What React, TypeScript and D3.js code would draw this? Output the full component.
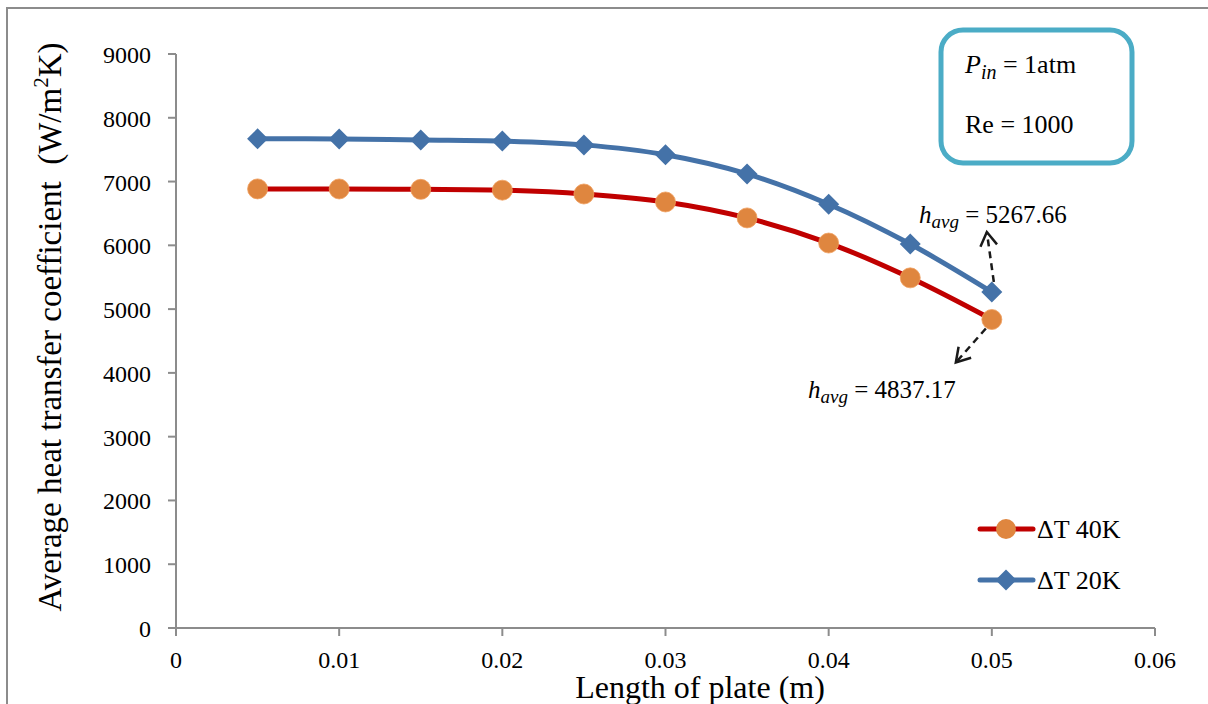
import React from "react";
import * as d3 from "d3";

const lengths = [0.005, 0.01, 0.015, 0.02, 0.025, 0.03, 0.035, 0.04, 0.045, 0.05];
const h20K = [7670, 7668, 7652, 7636, 7575, 7420, 7120, 6645, 6020, 5267.66];
const h40K = [6885, 6884, 6878, 6865, 6805, 6680, 6430, 6036, 5490, 4837.17];
const xTicks = [0, 0.01, 0.02, 0.03, 0.04, 0.05, 0.06];
const yTicks = [0, 1000, 2000, 3000, 4000, 5000, 6000, 7000, 8000, 9000];
const seriesNames = ["ΔT 40K", "ΔT 20K"];

const W = 1208;
const H = 704;
const FONT = "Liberation Serif, Times New Roman, serif";
const AXIS = "#8c8c8c";
const RED = "#c00000";
const ORANGE = "#df863f";
const BLUE = "#4472a8";

const x = d3.scaleLinear().domain([0, 0.06]).range([176, 1155]);
const y = d3.scaleLinear().domain([0, 9000]).range([628, 54]);

const line = d3
  .line<[number, number]>()
  .x((d) => x(d[0]))
  .y((d) => y(d[1]))
  .curve(d3.curveCatmullRom.alpha(0.5));

function diamond(cx: number, cy: number, r: number) {
  return `M${cx},${cy - r}L${cx + r},${cy}L${cx},${cy + r}L${cx - r},${cy}Z`;
}

function Arrow({ x1, y1, x2, y2 }: { x1: number; y1: number; x2: number; y2: number }) {
  const ang = Math.atan2(y2 - y1, x2 - x1);
  const len = 16;
  const spread = 0.55;
  const w1x = x2 - len * Math.cos(ang - spread);
  const w1y = y2 - len * Math.sin(ang - spread);
  const w2x = x2 - len * Math.cos(ang + spread);
  const w2y = y2 - len * Math.sin(ang + spread);
  return (
    <g stroke="#1a1a1a" strokeWidth={2.5} fill="none">
      <line x1={x1} y1={y1} x2={x2} y2={y2} strokeDasharray="7,5" />
      <path d={`M${w1x},${w1y}L${x2},${y2}L${w2x},${w2y}`} strokeLinejoin="miter" />
    </g>
  );
}

export default function App() {
  const d20 = lengths.map((l, i) => [l, h20K[i]] as [number, number]);
  const d40 = lengths.map((l, i) => [l, h40K[i]] as [number, number]);
  const last = lengths.length - 1;
  const bx = x(lengths[last]);
  const by = y(h20K[last]);
  const rx = x(lengths[last]);
  const ry = y(h40K[last]);

  return (
    <svg
      width={W}
      height={H}
      style={{ position: "absolute", left: 0, top: 0, background: "#fff", fontFamily: FONT }}
    >
      <rect x={0} y={0} width={W} height={H} fill="#fff" />
      {/* outer frame */}
      <rect x={7} y={8} width={1215} height={720} fill="none" stroke={AXIS} strokeWidth={2} />

      {/* axes */}
      <g stroke={AXIS} strokeWidth={2} fill="none">
        <line x1={x(0)} y1={y(9000)} x2={x(0)} y2={y(0) + 8} />
        <line x1={x(0)} y1={y(0)} x2={x(0.06)} y2={y(0)} />
        {yTicks.map((t) => (
          <line key={"yt" + t} x1={x(0) - 8} x2={x(0)} y1={y(t)} y2={y(t)} />
        ))}
        {xTicks.map((t) => (
          <line key={"xt" + t} x1={x(t)} x2={x(t)} y1={y(0)} y2={y(0) + 8} />
        ))}
      </g>
      <g fill="#000">
        {yTicks.map((t) => (
          <text key={"yl" + t} x={151} y={y(t) + 9} textAnchor="end" fontSize={24} fontFamily={FONT}>
            {t}
          </text>
        ))}
        {xTicks.map((t) => (
          <text key={"xl" + t} x={x(t)} y={668} textAnchor="middle" fontSize={24} fontFamily={FONT}>
            {t}
          </text>
        ))}
      </g>

      {/* axis titles */}
      <text x={700} y={698} fontSize={32} textAnchor="middle" fill="#000" fontFamily={FONT}>
        Length of plate (m)
      </text>
      <text
        transform="translate(61,327) rotate(-90)"
        fontSize={33}
        textAnchor="middle"
        fill="#000"
        fontFamily={FONT}
      >
        Average heat transfer coefficient{"\u00a0\u00a0"}(W/m
        <tspan fontSize={21} dy={-13}>2</tspan>
        <tspan dy={13}>K)</tspan>
      </text>

      {/* series */}
      <path d={line(d20) || ""} fill="none" stroke={BLUE} strokeWidth={5} />
      <path d={line(d40) || ""} fill="none" stroke={RED} strokeWidth={5} />
      {d20.map((d, i) => (
        <path key={"dm" + i} d={diamond(x(d[0]), y(d[1]), 10.5)} fill={BLUE} />
      ))}
      {d40.map((d, i) => (
        <circle
          key={"cm" + i}
          cx={x(d[0])}
          cy={y(d[1])}
          r={10}
          fill={ORANGE}
          stroke="#f0a060"
          strokeWidth={0.8}
        />
      ))}

      {/* info box */}
      <rect x={941} y={30} width={191} height={133} rx={22} ry={22} fill="#fff" stroke="#4bacc6" strokeWidth={5} />
      <text x={965} y={73} fontSize={26} fill="#000" fontFamily={FONT}>
        <tspan fontStyle="italic">P</tspan>
        <tspan fontStyle="italic" fontSize={20} dy={6}>in</tspan>
        <tspan dy={-6}> = 1atm</tspan>
      </text>
      <text x={965} y={133} fontSize={26} fill="#000" fontFamily={FONT}>
        Re = 1000
      </text>

      {/* annotations */}
      <Arrow x1={bx + 2} y1={by - 10} x2={bx - 5} y2={by - 60} />
      <Arrow x1={rx - 6} y1={ry + 9} x2={rx - 36} y2={ry + 43} />
      <text x={919} y={223} fontSize={25} fill="#000" fontFamily={FONT}>
        <tspan fontStyle="italic">h</tspan>
        <tspan fontStyle="italic" fontSize={19} dy={5}>avg</tspan>
        <tspan dy={-5}> = 5267.66</tspan>
      </text>
      <text x={808} y={398} fontSize={25} fill="#000" fontFamily={FONT}>
        <tspan fontStyle="italic">h</tspan>
        <tspan fontStyle="italic" fontSize={19} dy={5}>avg</tspan>
        <tspan dy={-5}> = 4837.17</tspan>
      </text>

      {/* legend */}
      <g>
        <line x1={980} x2={1033} y1={529} y2={529} stroke={RED} strokeWidth={5} strokeLinecap="round" />
        <circle cx={1006} cy={529} r={10} fill={ORANGE} />
        <text x={1037} y={538} fontSize={26} fill="#000" fontFamily={FONT}>{seriesNames[0]}</text>
        <line x1={980} x2={1033} y1={580} y2={580} stroke={BLUE} strokeWidth={5} strokeLinecap="round" />
        <path d={diamond(1006, 580, 10.5)} fill={BLUE} />
        <text x={1037} y={589} fontSize={26} fill="#000" fontFamily={FONT}>{seriesNames[1]}</text>
      </g>
    </svg>
  );
}
